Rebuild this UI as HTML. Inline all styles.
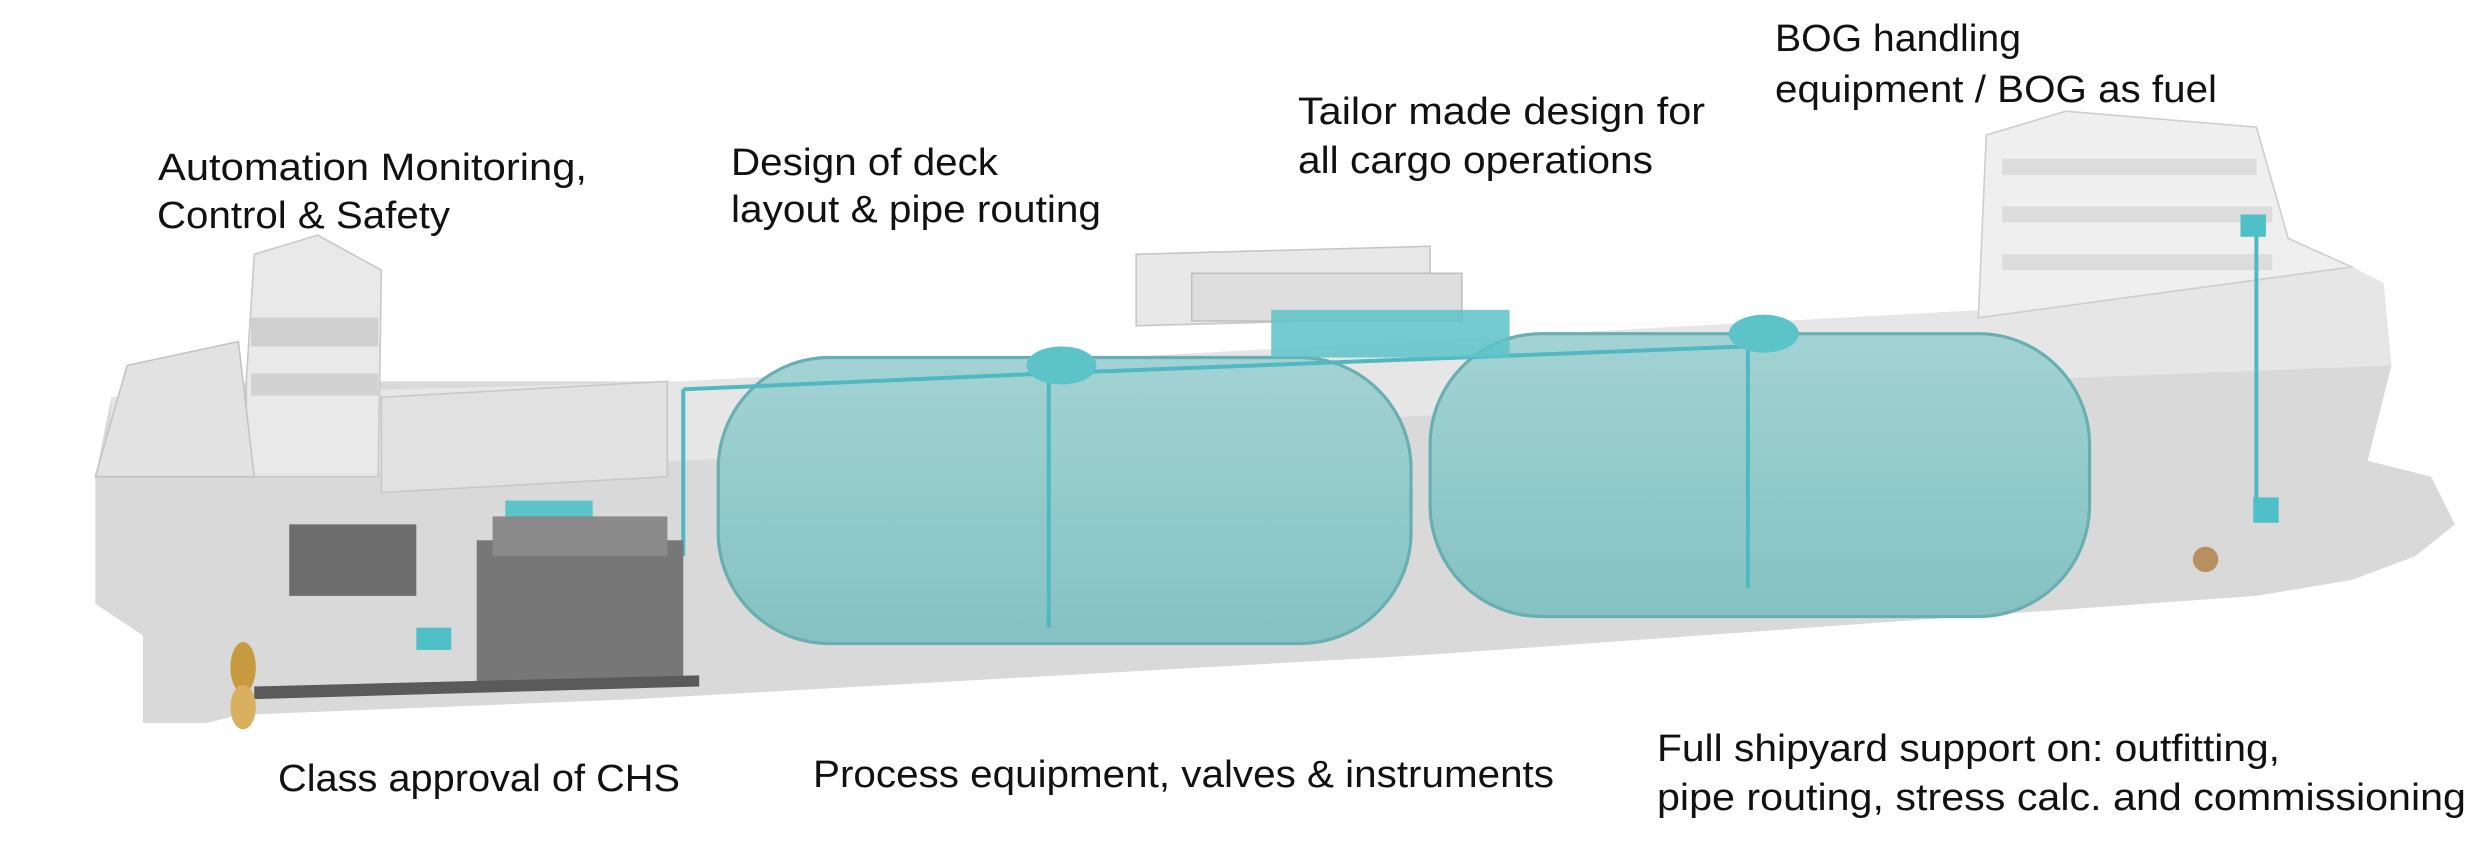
<!DOCTYPE html>
<html><head><meta charset="utf-8"><style>
html,body{margin:0;padding:0;background:#fff;}
svg{display:block}
text{font-family:"Liberation Sans",sans-serif;font-size:38px;fill:#111;}
</style></head><body>
<svg width="2491" height="847" viewBox="0 0 2491 847" xmlns="http://www.w3.org/2000/svg">
<defs>
<linearGradient id="tk" x1="0" y1="0" x2="0" y2="1">
<stop offset="0" stop-color="#a3d3d4"/><stop offset="0.5" stop-color="#92caca"/><stop offset="1" stop-color="#86c2c3"/>
</linearGradient>
</defs>
<g transform="scale(1.589)">
  <!-- hull -->
  <path d="M60,300 L70,250 L160,240 L430,240 L1250,195 L1480,168 L1500,178 L1505,230 L1490,290 L1530,300 L1545,330 L1520,350 L1480,365 L1420,375 L900,412 L400,440 L150,450 L130,455 L90,455 L90,400 L60,380 Z" fill="#d9d9d9"/>
  <path d="M70,250 L430,240 L1250,195 L1480,168 L1500,178 L1505,230 L1250,240 L430,290 L70,300 Z" fill="#e6e6e6"/>
  <!-- stern superstructure -->
  <path d="M155,240 L160,160 L200,148 L240,170 L238,300 L155,300 Z" fill="#e9e9e9" stroke="#c8c8c8"/>
  <rect x="158" y="200" width="80" height="18" fill="#cfcfcf"/>
  <rect x="158" y="235" width="80" height="14" fill="#d2d2d2"/>
  <path d="M60,300 L80,230 L150,215 L160,300 Z" fill="#e2e2e2" stroke="#c4c4c4"/>
  <path d="M240,250 L420,240 L420,300 L240,310 Z" fill="#e1e1e1" stroke="#c8c8c8"/>
  <!-- bow superstructure -->
  <path d="M1245,200 L1250,85 L1300,70 L1420,80 L1440,150 L1480,168 Z" fill="#efefef" stroke="#cdcdcd"/>
  <rect x="1260" y="100" width="160" height="10" fill="#dcdcdc"/>
  <rect x="1260" y="130" width="170" height="10" fill="#dcdcdc"/>
  <rect x="1260" y="160" width="170" height="10" fill="#dcdcdc"/>
  <!-- deck structures -->
  <path d="M715,160 L900,155 L900,200 L715,205 Z" fill="#e8e8e8" stroke="#c6c6c6"/>
  <rect x="750" y="172" width="170" height="30" fill="#dedede" stroke="#c0c0c0"/>
  <!-- tanks -->
  <rect x="452" y="225" width="436" height="180" rx="70" fill="url(#tk)" stroke="#69aeb1" stroke-width="2"/>
  <rect x="900" y="210" width="415" height="178" rx="70" fill="url(#tk)" stroke="#69aeb1" stroke-width="2"/>
  <!-- piping -->
  <path d="M430,245 L660,235 L1100,218 M660,235 L660,395 M1100,218 L1100,370 M430,245 L430,350 M1410,140 L1420,140 L1420,315" stroke="#4fb8c0" stroke-width="2.5" fill="none"/>
  <rect x="800" y="195" width="150" height="30" fill="#5cc3c9" opacity="0.85"/>
  <ellipse cx="668" cy="230" rx="22" ry="12" fill="#5cc3c9"/>
  <ellipse cx="1110" cy="210" rx="22" ry="12" fill="#5cc3c9"/>
  <rect x="1410" y="135" width="16" height="14" fill="#4fc0c8"/>
  <rect x="1418" y="313" width="16" height="16" fill="#4fc0c8"/>
  <rect x="318" y="315" width="55" height="22" fill="#5cc3c9"/>
  <!-- engines -->
  <rect x="182" y="330" width="80" height="45" fill="#6d6d6d"/>
  <rect x="300" y="340" width="130" height="90" fill="#777"/>
  <rect x="310" y="325" width="110" height="25" fill="#8a8a8a"/>
  <path d="M160,432 L440,425 L440,432 L160,440 Z" fill="#5a5a5a"/>
  <rect x="262" y="395" width="22" height="14" fill="#4fc0c8"/>
  <!-- propeller -->
  <ellipse cx="153" cy="420" rx="8" ry="16" fill="#c89a40"/>
  <ellipse cx="153" cy="445" rx="8" ry="14" fill="#d8b060"/>
  <circle cx="1388" cy="352" r="8" fill="#b89060"/>
</g>
<text x="158" y="180" textLength="429" lengthAdjust="spacingAndGlyphs">Automation Monitoring,</text>
<text x="157" y="228" textLength="293" lengthAdjust="spacingAndGlyphs">Control &amp; Safety</text>
<text x="731" y="175" textLength="267" lengthAdjust="spacingAndGlyphs">Design of deck</text>
<text x="731" y="222" textLength="370" lengthAdjust="spacingAndGlyphs">layout &amp; pipe routing</text>
<text x="1298" y="124" textLength="407" lengthAdjust="spacingAndGlyphs">Tailor made design for</text>
<text x="1298" y="173" textLength="355" lengthAdjust="spacingAndGlyphs">all cargo operations</text>
<text x="1775" y="51" textLength="246" lengthAdjust="spacingAndGlyphs">BOG handling</text>
<text x="1775" y="102" textLength="442" lengthAdjust="spacingAndGlyphs">equipment / BOG as fuel</text>
<text x="278" y="791" textLength="402" lengthAdjust="spacingAndGlyphs">Class approval of CHS</text>
<text x="813" y="787" textLength="741" lengthAdjust="spacingAndGlyphs">Process equipment, valves &amp; instruments</text>
<text x="1657" y="761" textLength="623" lengthAdjust="spacingAndGlyphs">Full shipyard support on: outfitting,</text>
<text x="1657" y="810" textLength="809" lengthAdjust="spacingAndGlyphs">pipe routing, stress calc. and commissioning</text>
</svg>
</body></html>
